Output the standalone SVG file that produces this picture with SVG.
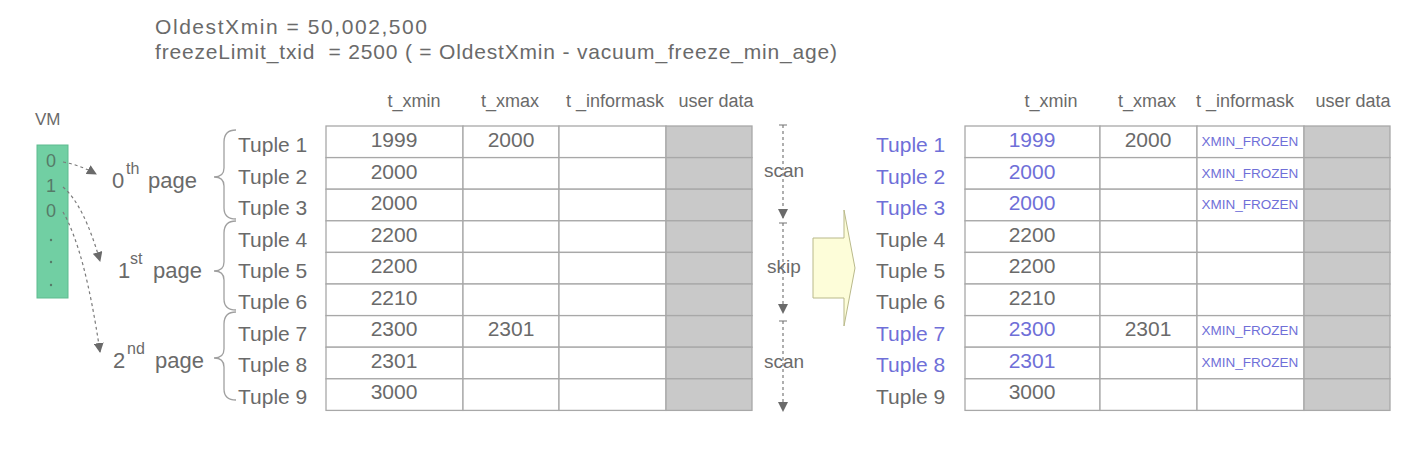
<svg xmlns="http://www.w3.org/2000/svg" width="1412" height="452" viewBox="0 0 1412 452">
<defs>
<style>
text{font-family:"Liberation Sans","DejaVu Sans",sans-serif;fill:#6a6a6a}
.hd{font-size:18px;text-anchor:middle}
.tp{font-size:21px}
.num{font-size:21px;text-anchor:middle}
.bl{fill:#6f6fd8}
.fz{font-size:13.5px;fill:#6f6fd8;text-anchor:middle}
.pg{font-size:22px}
.sup{font-size:16px}
.cell{fill:#fff;stroke:#a8a8a8;stroke-width:1.3}
.ud{fill:#c9c9c9;stroke:#a8a8a8;stroke-width:1.3}
.brace{fill:none;stroke:#a0a0a0;stroke-width:1.3}
.dash{fill:none;stroke:#7a7a7a;stroke-width:1.2;stroke-dasharray:3,3}
.sc{font-size:19px;text-anchor:middle}
</style>
<marker id="ah" viewBox="0 0 10 10" refX="9" refY="5" markerWidth="10" markerHeight="10" markerUnits="userSpaceOnUse" orient="auto">
<path d="M0,0 L10,5 L0,10 Z" fill="#6a6a6a"/>
</marker>
</defs>
<rect width="1412" height="452" fill="#fff"/>

<g id="header">
<text x="155" y="34" style="font-size:21px" textLength="272" lengthAdjust="spacing">OldestXmin = 50,002,500</text>
<text x="155" y="59" style="font-size:21px;white-space:pre" xml:space="preserve" textLength="682" lengthAdjust="spacing">freezeLimit_txid  = 2500 ( = OldestXmin - vacuum_freeze_min_age)</text>
</g>

<g id="vm">
<text x="35" y="125" style="font-size:17px">VM</text>
<rect x="37" y="145" width="31" height="153" fill="#71cfa3" stroke="#5fbb8f" stroke-width="1"/>
<text x="51" y="167" style="font-size:18px;fill:#567a68;text-anchor:middle">0</text>
<text x="51" y="192" style="font-size:18px;fill:#567a68;text-anchor:middle">1</text>
<text x="51" y="217" style="font-size:18px;fill:#567a68;text-anchor:middle">0</text>
<circle cx="51" cy="240" r="1.2" fill="#567a68"/>
<circle cx="51" cy="262" r="1.2" fill="#567a68"/>
<circle cx="51" cy="285" r="1.2" fill="#567a68"/>
</g>

<g id="connectors">
<path class="dash" d="M63,162 Q80,165 96,174" marker-end="url(#ah)"/>
<path class="dash" d="M63,187 Q84,205 100,261" marker-end="url(#ah)"/>
<path class="dash" d="M63,212 Q85,250 100,352" marker-end="url(#ah)"/>
</g>

<g id="pages">
<text class="pg" x="112" y="188">0</text><text class="sup" x="126" y="174">th</text><text class="pg" x="148" y="188">page</text>
<text class="pg" x="118" y="278">1</text><text class="sup" x="130" y="264">st</text><text class="pg" x="153" y="278">page</text>
<text class="pg" x="113" y="368">2</text><text class="sup" x="127" y="354">nd</text><text class="pg" x="155" y="368">page</text>
</g>

<g id="braces">
<path class="brace" d="M236,130 Q224,130 224,142 L224,168 Q224,177 214,177 Q224,177 224,186 L224,208 Q224,219 236,219"/>
<path class="brace" d="M236,221 Q224,221 224,233 L224,262 Q224,271 214,271 Q224,271 224,280 L224,299 Q224,310 236,310"/>
<path class="brace" d="M236,312 Q224,312 224,324 L224,349 Q224,358 214,358 Q224,358 224,367 L224,389 Q224,400 236,400"/>
</g>

<g id="left-tuples">
<text class="tp" x="238" y="152">Tuple 1</text>
<text class="tp" x="238" y="184">Tuple 2</text>
<text class="tp" x="238" y="215">Tuple 3</text>
<text class="tp" x="238" y="247">Tuple 4</text>
<text class="tp" x="238" y="278">Tuple 5</text>
<text class="tp" x="238" y="309">Tuple 6</text>
<text class="tp" x="238" y="341">Tuple 7</text>
<text class="tp" x="238" y="372">Tuple 8</text>
<text class="tp" x="238" y="404">Tuple 9</text>
</g>

<g id="left-table">
<text class="hd" x="414" y="107">t_xmin</text>
<text class="hd" x="510" y="107">t_xmax</text>
<text class="hd" x="615" y="107">t _informask</text>
<text class="hd" x="716" y="107">user data</text>
<g>
<rect class="cell" x="326" y="126" width="137" height="31.6"/><rect class="cell" x="463" y="126" width="96" height="31.6"/><rect class="cell" x="559" y="126" width="107" height="31.6"/><rect class="ud" x="666" y="126" width="86" height="31.6"/>
<rect class="cell" x="326" y="157.6" width="137" height="31.6"/><rect class="cell" x="463" y="157.6" width="96" height="31.6"/><rect class="cell" x="559" y="157.6" width="107" height="31.6"/><rect class="ud" x="666" y="157.6" width="86" height="31.6"/>
<rect class="cell" x="326" y="189.2" width="137" height="31.6"/><rect class="cell" x="463" y="189.2" width="96" height="31.6"/><rect class="cell" x="559" y="189.2" width="107" height="31.6"/><rect class="ud" x="666" y="189.2" width="86" height="31.6"/>
<rect class="cell" x="326" y="220.8" width="137" height="31.6"/><rect class="cell" x="463" y="220.8" width="96" height="31.6"/><rect class="cell" x="559" y="220.8" width="107" height="31.6"/><rect class="ud" x="666" y="220.8" width="86" height="31.6"/>
<rect class="cell" x="326" y="252.4" width="137" height="31.6"/><rect class="cell" x="463" y="252.4" width="96" height="31.6"/><rect class="cell" x="559" y="252.4" width="107" height="31.6"/><rect class="ud" x="666" y="252.4" width="86" height="31.6"/>
<rect class="cell" x="326" y="284" width="137" height="31.6"/><rect class="cell" x="463" y="284" width="96" height="31.6"/><rect class="cell" x="559" y="284" width="107" height="31.6"/><rect class="ud" x="666" y="284" width="86" height="31.6"/>
<rect class="cell" x="326" y="315.6" width="137" height="31.6"/><rect class="cell" x="463" y="315.6" width="96" height="31.6"/><rect class="cell" x="559" y="315.6" width="107" height="31.6"/><rect class="ud" x="666" y="315.6" width="86" height="31.6"/>
<rect class="cell" x="326" y="347.2" width="137" height="31.6"/><rect class="cell" x="463" y="347.2" width="96" height="31.6"/><rect class="cell" x="559" y="347.2" width="107" height="31.6"/><rect class="ud" x="666" y="347.2" width="86" height="31.6"/>
<rect class="cell" x="326" y="378.8" width="137" height="31.6"/><rect class="cell" x="463" y="378.8" width="96" height="31.6"/><rect class="cell" x="559" y="378.8" width="107" height="31.6"/><rect class="ud" x="666" y="378.8" width="86" height="31.6"/>
</g>
<text class="num" x="394" y="147">1999</text><text class="num" x="511" y="147">2000</text>
<text class="num" x="394" y="179">2000</text>
<text class="num" x="394" y="210">2000</text>
<text class="num" x="394" y="242">2200</text>
<text class="num" x="394" y="273">2200</text>
<text class="num" x="394" y="305">2210</text>
<text class="num" x="394" y="336">2300</text><text class="num" x="511" y="336">2301</text>
<text class="num" x="394" y="368">2301</text>
<text class="num" x="394" y="399">3000</text>
</g>

<g id="scan-skip">
<line x1="779" y1="125" x2="787" y2="125" stroke="#8a8a8a" stroke-width="1.2"/>
<path class="dash" d="M783,125 L783,218" marker-end="url(#ah)"/>
<line x1="779" y1="223" x2="787" y2="223" stroke="#8a8a8a" stroke-width="1.2"/>
<path class="dash" d="M783,223 L783,313" marker-end="url(#ah)"/>
<line x1="779" y1="321" x2="787" y2="321" stroke="#8a8a8a" stroke-width="1.2"/>
<path class="dash" d="M783,321 L783,411" marker-end="url(#ah)"/>
<text class="sc" x="784" y="177">scan</text>
<text class="sc" x="784" y="273">skip</text>
<text class="sc" x="784" y="368">scan</text>
</g>

<g id="big-arrow">
<path d="M813,238 L844,238 L844,210 L855,268 L844,326 L844,298 L813,298 Z" fill="#fdfdd9" stroke="#b9b98a" stroke-width="1"/>
</g>

<g id="right-tuples">
<text class="tp bl" x="876" y="152">Tuple 1</text>
<text class="tp bl" x="876" y="184">Tuple 2</text>
<text class="tp bl" x="876" y="215">Tuple 3</text>
<text class="tp" x="876" y="247">Tuple 4</text>
<text class="tp" x="876" y="278">Tuple 5</text>
<text class="tp" x="876" y="309">Tuple 6</text>
<text class="tp bl" x="876" y="341">Tuple 7</text>
<text class="tp bl" x="876" y="372">Tuple 8</text>
<text class="tp" x="876" y="404">Tuple 9</text>
</g>

<g id="right-table">
<text class="hd" x="1051" y="107">t_xmin</text>
<text class="hd" x="1147" y="107">t_xmax</text>
<text class="hd" x="1245" y="107">t _informask</text>
<text class="hd" x="1353" y="107">user data</text>
<g>
<rect class="cell" x="965" y="126" width="135" height="31.6"/><rect class="cell" x="1100" y="126" width="97" height="31.6"/><rect class="cell" x="1197" y="126" width="107" height="31.6"/><rect class="ud" x="1304" y="126" width="86" height="31.6"/>
<rect class="cell" x="965" y="157.6" width="135" height="31.6"/><rect class="cell" x="1100" y="157.6" width="97" height="31.6"/><rect class="cell" x="1197" y="157.6" width="107" height="31.6"/><rect class="ud" x="1304" y="157.6" width="86" height="31.6"/>
<rect class="cell" x="965" y="189.2" width="135" height="31.6"/><rect class="cell" x="1100" y="189.2" width="97" height="31.6"/><rect class="cell" x="1197" y="189.2" width="107" height="31.6"/><rect class="ud" x="1304" y="189.2" width="86" height="31.6"/>
<rect class="cell" x="965" y="220.8" width="135" height="31.6"/><rect class="cell" x="1100" y="220.8" width="97" height="31.6"/><rect class="cell" x="1197" y="220.8" width="107" height="31.6"/><rect class="ud" x="1304" y="220.8" width="86" height="31.6"/>
<rect class="cell" x="965" y="252.4" width="135" height="31.6"/><rect class="cell" x="1100" y="252.4" width="97" height="31.6"/><rect class="cell" x="1197" y="252.4" width="107" height="31.6"/><rect class="ud" x="1304" y="252.4" width="86" height="31.6"/>
<rect class="cell" x="965" y="284" width="135" height="31.6"/><rect class="cell" x="1100" y="284" width="97" height="31.6"/><rect class="cell" x="1197" y="284" width="107" height="31.6"/><rect class="ud" x="1304" y="284" width="86" height="31.6"/>
<rect class="cell" x="965" y="315.6" width="135" height="31.6"/><rect class="cell" x="1100" y="315.6" width="97" height="31.6"/><rect class="cell" x="1197" y="315.6" width="107" height="31.6"/><rect class="ud" x="1304" y="315.6" width="86" height="31.6"/>
<rect class="cell" x="965" y="347.2" width="135" height="31.6"/><rect class="cell" x="1100" y="347.2" width="97" height="31.6"/><rect class="cell" x="1197" y="347.2" width="107" height="31.6"/><rect class="ud" x="1304" y="347.2" width="86" height="31.6"/>
<rect class="cell" x="965" y="378.8" width="135" height="31.6"/><rect class="cell" x="1100" y="378.8" width="97" height="31.6"/><rect class="cell" x="1197" y="378.8" width="107" height="31.6"/><rect class="ud" x="1304" y="378.8" width="86" height="31.6"/>
</g>
<text class="num bl" x="1032" y="147">1999</text><text class="num" x="1148" y="147">2000</text><text class="fz" x="1250" y="146">XMIN_FROZEN</text>
<text class="num bl" x="1032" y="179">2000</text><text class="fz" x="1250" y="178">XMIN_FROZEN</text>
<text class="num bl" x="1032" y="210">2000</text><text class="fz" x="1250" y="209">XMIN_FROZEN</text>
<text class="num" x="1032" y="242">2200</text>
<text class="num" x="1032" y="273">2200</text>
<text class="num" x="1032" y="305">2210</text>
<text class="num bl" x="1032" y="336">2300</text><text class="num" x="1148" y="336">2301</text><text class="fz" x="1250" y="335">XMIN_FROZEN</text>
<text class="num bl" x="1032" y="368">2301</text><text class="fz" x="1250" y="367">XMIN_FROZEN</text>
<text class="num" x="1032" y="399">3000</text>
</g>
</svg>
